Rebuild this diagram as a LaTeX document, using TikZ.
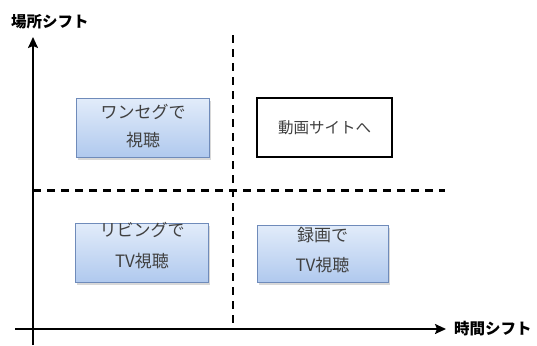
\documentclass[tikz,border=0pt]{standalone}
\usepackage{fontspec}
\newfontfamily\jp{Noto Sans CJK JP}
\usetikzlibrary{arrows.meta,shadows}
\definecolor{boxtop}{HTML}{E2ECFA}
\definecolor{boxbot}{HTML}{B0C9EE}
\definecolor{boxline}{HTML}{6F8BBA}
\definecolor{txt}{HTML}{404040}
\tikzset{
  axis/.style={line width=1.8bp,-{Stealth[length=11bp,width=10bp,inset=2bp]}},
  divider/.style={line width=2.2bp,dash pattern=on 8bp off 6bp},
  bluebox/.style={draw=boxline,line width=0.9bp,top color=boxtop,bottom color=boxbot,
    minimum width=133bp,minimum height=59bp,inner sep=0pt,
    drop shadow={shadow xshift=1.5bp,shadow yshift=-2.5bp,opacity=0.3}},
  boxtext/.style={align=center,inner sep=0pt,
    font=\jp\fontsize{17bp}{30bp}\selectfont,text=txt},
  whitebox/.style={draw=black,line width=1.6bp,fill=white,
    minimum width=135bp,minimum height=59bp,inner sep=0pt,align=center,
    font=\jp\fontsize{15.5bp}{18bp}\selectfont\mdseries,text=black!75},
  axislabel/.style={font=\jp\bfseries\fontsize{15.5bp}{16bp}\selectfont,inner sep=0pt}
}
\begin{document}
\begin{tikzpicture}[x=1bp,y=-1bp]
\useasboundingbox (0,0) rectangle (537,345);
\fill[white] (0,0) rectangle (537,345);
% coordinates
\coordinate (ybot) at (33,345);
\coordinate (ytop) at (33,37);
\coordinate (xleft) at (15,329);
\coordinate (xright) at (446,329);
\coordinate (vtop) at (233,35);
\coordinate (vbot) at (233,329);
\coordinate (hleft) at (33,190.5);
\coordinate (hright) at (445,190.5);
% dividers
\draw[divider] (vtop) -- (vbot);
\draw[divider] (hleft) -- (hright);
% axes
\draw[axis] (ybot) -- (ytop);
\draw[axis] (xleft) -- (xright);
% labels
\node[axislabel,anchor=west] (ylab) at (11,22) {場所シフト};
\node[axislabel,anchor=west] (xlab) at (454,329) {時間シフト};
% boxes
\node[bluebox] (oneseg) at (143,127.5) {};
\node[boxtext,font=\jp\fontsize{17bp}{28bp}\selectfont] (onesegt) at (143,126.5) {ワンセグで\\視聴};
\node[whitebox] (douga) at (324.5,127.5) {動画サイトへ};
\node[bluebox] (living) at (142,252.5) {};
\node[boxtext,font=\jp\fontsize{17bp}{31bp}\selectfont] (livingt) at (142,246) {リビングで\\TV視聴};
\node[bluebox,minimum width=131bp,minimum height=57bp] (rokuga) at (322.5,253.5) {};
\node[boxtext] (rokugat) at (322.5,250) {録画で\\TV視聴};
\end{tikzpicture}
\end{document}
